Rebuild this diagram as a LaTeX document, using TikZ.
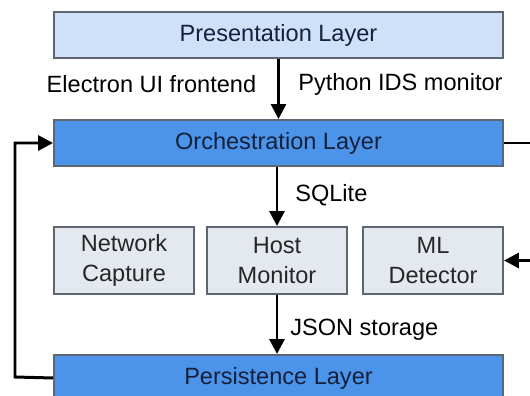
\documentclass[tikz,border=0pt]{standalone}
\usepackage{fontspec}
\setmainfont{Liberation Sans}
\usepackage{tikz}
\usetikzlibrary{arrows.meta}
\definecolor{boxline}{HTML}{5F6672}
\definecolor{lightlayer}{HTML}{CFE1F8}
\definecolor{darklayer}{HTML}{4C93EA}
\definecolor{modfill}{HTML}{E4E9F0}
\definecolor{navytext}{HTML}{15203A}

\begin{document}
\begin{tikzpicture}[
    font=\fontsize{13.4}{17}\selectfont,
    layer/.style={draw=boxline, line width=1.1pt, minimum width=8.98cm, minimum height=0.92cm, text=navytext},
    module/.style={draw=boxline, line width=1.1pt, fill=modfill, minimum width=2.8cm, minimum height=1.34cm, align=center, text=black!85},
    flow/.style={line width=1.7pt, -{Triangle[width=0.3cm,length=0.3cm]}}
  ]
                \useasboundingbox (0,0) rectangle (10.6,-7.92);

                % Layers
                \node[layer, fill=lightlayer] (pres) at (5.57,-0.70) {Presentation Layer};
                \node[layer, fill=darklayer] (orch) at (5.57,-2.86) {Orchestration Layer};
                \node[layer, fill=darklayer] (pers) at (5.57,-7.56) {Persistence Layer};

                % Modules
                \node[module] (net) at (2.48,-5.21) {Network\\Capture};
                \node[module] (host) at (5.54,-5.21) {Host\\Monitor};
                \node[module] (ml) at (8.66,-5.21) {ML\\Detector};

                % Vertical flow
                \draw[flow] (pres) -- node[left=0.3cm, yshift=0.1cm] {Electron UI frontend} node[right=0.25cm, yshift=0.1cm] {Python IDS monitor} (orch);
                \draw[flow] (orch.south -| host) -- node[right=0.22cm, yshift=0.02cm] {SQLite} (host);
                \draw[flow] (host) -- node[right=0.12cm, yshift=-0.1cm] {JSON storage} (pers.north -| host);

                % Feedback loops
                \draw[flow] (pers.west) -- (0.30,-7.54) |- (orch.west);
                \draw[flow] (orch.east) -- (11.2,-2.86) |- (ml.east);
\end{tikzpicture}
\end{document}
